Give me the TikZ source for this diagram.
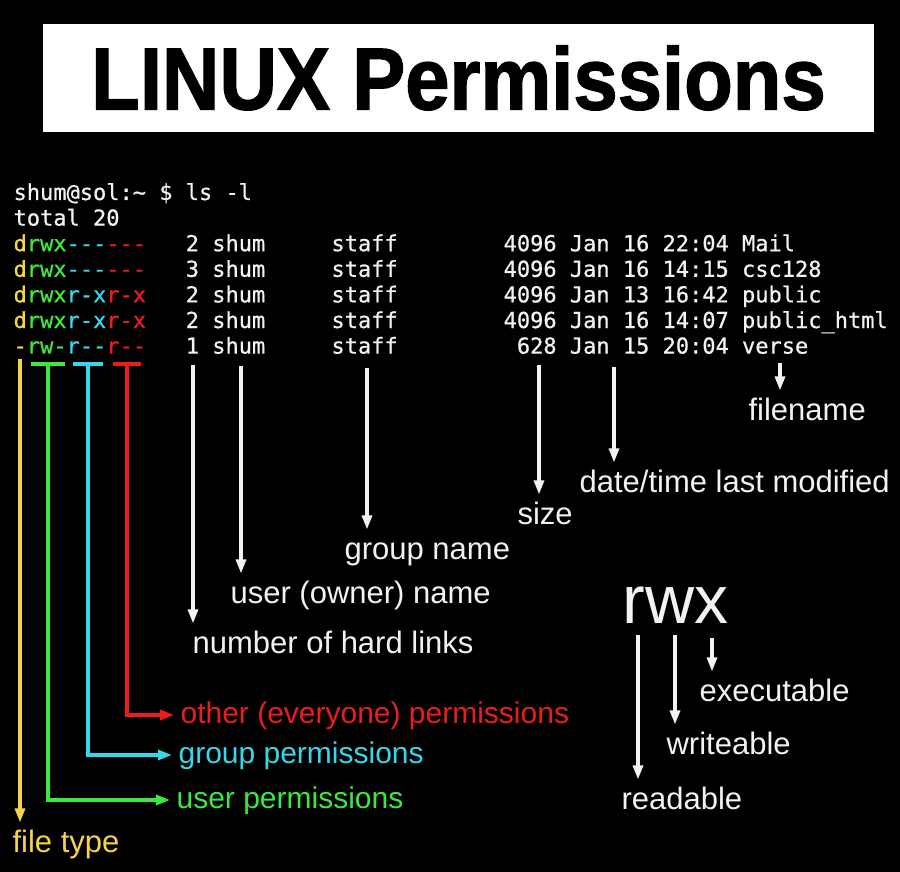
\documentclass[tikz,border=0pt]{standalone}
\usepackage{fontspec}
\setmainfont{Liberation Sans}
\setmonofont{DejaVu Sans Mono}[FakeBold=0.7]
\newfontfamily\titlefont{Liberation Sans Bold}[FakeBold=1.6]
\usepackage{xcolor}
\usepackage{graphicx}
\usepackage{tikz}
\usetikzlibrary{arrows.meta}

\definecolor{typeyellow}{HTML}{F5D547}
\definecolor{usergreen}{HTML}{3CE83C}
\definecolor{groupcyan}{HTML}{36D7EA}
\definecolor{otherred}{HTML}{EC1C1C}
\definecolor{termwhite}{HTML}{F2F2F2}

\begin{document}
\begin{tikzpicture}[
    x=1pt, y=-1pt,
    >={Triangle[length=14pt,width=10pt]},
    line width=3.2pt,
    term/.style={anchor=base west, inner sep=0pt, text=termwhite, font=\ttfamily\fontsize{22}{22}\selectfont},
    lbl/.style={anchor=base west, inner xsep=0pt, inner ysep=5pt, text height=23pt, text depth=7pt, text=termwhite, font=\fontsize{31}{31}\selectfont},
    plbl/.style={anchor=west, inner xsep=5pt, text height=23pt, text depth=7pt, font=\fontsize{30}{30}\selectfont},
    wire/.style={->, draw=termwhite},
]
    \fill[black] (0,0) rectangle (900,872);

    % title
    \node[fill=white, minimum width=831pt, minimum height=108pt, inner sep=0pt,
          font=\titlefont\fontsize{88}{88}\selectfont] (title) at (458.5,78)
          {\scalebox{0.905}[1]{LINUX Permissions}};

    % terminal listing
    \node[term] (prompt) at (12,200) {shum@sol:\textasciitilde{} \$ ls -l};
    \node[term] (total) at (12,225.6) {total 20};
    \node[term] (row1) at (12,251.2) {\textcolor{typeyellow}{d}\textcolor{usergreen}{rwx}\textcolor{groupcyan}{---}\textcolor{otherred}{---}~~~2 shum~~~~~staff~~~~~~~~4096 Jan 16 22:04 Mail};
    \node[term] (row2) at (12,276.8) {\textcolor{typeyellow}{d}\textcolor{usergreen}{rwx}\textcolor{groupcyan}{---}\textcolor{otherred}{---}~~~3 shum~~~~~staff~~~~~~~~4096 Jan 16 14:15 csc128};
    \node[term] (row3) at (12,302.4) {\textcolor{typeyellow}{d}\textcolor{usergreen}{rwx}\textcolor{groupcyan}{r-x}\textcolor{otherred}{r-x}~~~2 shum~~~~~staff~~~~~~~~4096 Jan 13 16:42 public};
    \node[term] (row4) at (12,328) {\textcolor{typeyellow}{d}\textcolor{usergreen}{rwx}\textcolor{groupcyan}{r-x}\textcolor{otherred}{r-x}~~~2 shum~~~~~staff~~~~~~~~4096 Jan 16 14:07 public\_html};
    \node[term] (row5) at (12,353.6) {\textcolor{typeyellow}{-}\textcolor{usergreen}{rw-}\textcolor{groupcyan}{r--}\textcolor{otherred}{r--}~~~1 shum~~~~~staff~~~~~~~~~628 Jan 15 20:04 verse};

    % permission labels
    \node[lbl, text=typeyellow] (filetype) at (11,852) {file type};
    \node[plbl, text=usergreen] (userp) at (170,800) {user permissions};
    \node[plbl, text=groupcyan] (groupp) at (172,755) {group permissions};
    \node[plbl, text=otherred] (otherp) at (174,715) {other (everyone) permissions};

    \coordinate (typetop) at (20,359);
    \coordinate (usertop) at (48,364);
    \coordinate (grouptop) at (88,364);
    \coordinate (othertop) at (127,364);

    \draw[typeyellow, ->] (typetop) -- (typetop |- filetype.north);
    \draw[usergreen] ([xshift=-17pt]usertop) -- ([xshift=17pt]usertop);
    \draw[usergreen, ->] (usertop) |- (userp.west);
    \draw[groupcyan] ([xshift=-15pt]grouptop) -- ([xshift=15pt]grouptop);
    \draw[groupcyan, ->] (grouptop) |- (groupp.west);
    \draw[otherred] ([xshift=-14pt]othertop) -- ([xshift=14pt]othertop);
    \draw[otherred, ->] (othertop) |- (otherp.west);

    % column labels
    \node[lbl] (links) at (191,653) {number of hard links};
    \node[lbl] (owner) at (229,603) {user (owner) name};
    \node[lbl] (grpname) at (343,559) {group name};
    \node[lbl] (size) at (516,524) {size};
    \node[lbl] (date) at (578,492) {date/time last modified};
    \node[lbl] (fname) at (747,420) {filename};

    \coordinate (linkstop) at (193,365);
    \coordinate (ownertop) at (241,366);
    \coordinate (grptop) at (367,368);
    \coordinate (sizetop) at (539,365);
    \coordinate (datetop) at (614,367);
    \coordinate (fnametop) at (780,363);

    \draw[wire] (linkstop) -- (linkstop |- links.north);
    \draw[wire] (ownertop) -- (ownertop |- owner.north);
    \draw[wire] (grptop) -- (grptop |- grpname.north);
    \draw[wire] (sizetop) -- (sizetop |- size.north);
    \draw[wire] (datetop) -- (datetop |- date.north);
    \draw[wire] (fnametop) -- (fnametop |- fname.north);

    % rwx legend
    \node[anchor=base west, inner sep=0pt, text=termwhite, font=\fontsize{68}{68}\selectfont] (rwx) at (621,623) {rwx};
    \node[lbl] (readable) at (620,809) {readable};
    \node[lbl] (writeable) at (665,754) {writeable};
    \node[lbl] (executable) at (698,701) {executable};

    \coordinate (rtop) at (638,635);
    \coordinate (wtop) at (675,635);
    \coordinate (xtop) at (712,638);

    \draw[wire] (rtop) -- (rtop |- readable.north);
    \draw[wire] (wtop) -- (wtop |- writeable.north);
    \draw[wire] (xtop) -- (xtop |- executable.north);
\end{tikzpicture}
\end{document}
